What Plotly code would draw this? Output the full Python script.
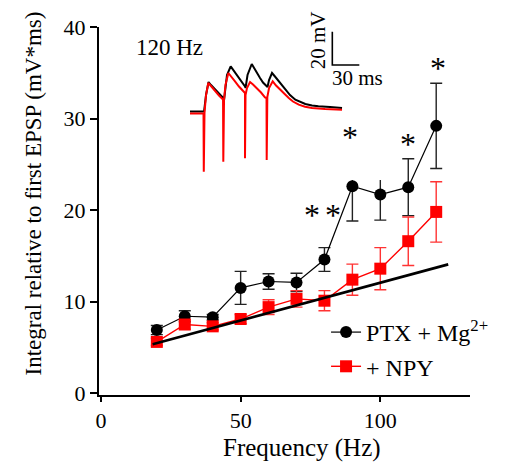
import plotly.graph_objects as go

# ---- main data ----
freq = [20, 30, 40, 50, 60, 70, 80, 90, 100, 110, 120]
ptx_mean = [6.9, 8.4, 8.3, 11.5, 12.2, 12.1, 14.6, 22.6, 21.7, 22.5, 29.2]
ptx_err = [0.5, 0.6, 0.3, 1.8, 0.85, 1.0, 1.3, 3.8, 2.8, 3.1, 4.65]
npy_mean = [5.6, 7.5, 7.3, 8.1, 9.4, 10.3, 10.1, 12.4, 13.6, 16.6, 19.8]
npy_err = [0.4, 0.5, 0.4, 0.5, 0.8, 0.9, 1.1, 1.7, 2.3, 2.65, 3.3]

fit_x = [18.5, 124.3]
fit_y = [5.35, 14.07]

star_x = [75.7, 82.9, 89.3, 110.0, 120.7]
star_y = [19.8, 19.8, 28.3, 27.6, 35.9]

x_ticks = [0, 50, 100]
y_ticks = [0, 10, 20, 30, 40]

# ---- inset traces (time in ms, voltage in mV relative to baseline) ----
red_t = [0, 15.0, 15.3, 16.1, 17.8, 20.3, 23.3, 27.8, 32.2, 36.7, 37.0, 37.8, 39.4, 42.6,
         45.6, 50.0, 54.4, 58.9, 61.1, 61.1, 61.7, 63.3, 66.7, 70.0, 74.1, 78.9, 83.3, 85.0,
         85.2, 85.9, 87.8, 91.9, 95.6, 100.3, 104.4, 109.7, 114.4, 120.8, 127.8, 135.6,
         150.0, 168.9]
red_v = [-0.1, -0.1, -35.0, 0.2, 11.0, 18.2, 16.4, 13.2, 10.7, 8.2, -29.0, 8.0, 17.0, 24.2,
         22.4, 19.2, 16.1, 13.2, 12.2, -27.0, 11.0, 15.2, 18.8, 17.3, 15.2, 12.5, 9.6, 9.2,
         -28.0, 9.8, 15.2, 19.2, 16.7, 14.2, 11.6, 9.2, 7.1, 5.2, 4.0, 3.2, 2.6, 2.2]
blk_t = [0, 15.6, 17.8, 20.6, 23.3, 27.8, 32.2, 37.0, 37.8, 38.9, 41.1, 45.2, 48.9, 53.7,
         57.2, 61.1, 61.7, 63.9, 68.6, 72.2, 77.8, 81.1, 85.2, 86.1, 87.8, 91.1, 94.4, 98.6,
         102.2, 105.9, 111.1, 117.0, 122.2, 128.1, 135.6, 142.6, 155.6, 168.9]
blk_v = [1.1, 1.1, 11.0, 18.8, 17.0, 14.3, 11.6, 9.2, 8.0, 14.0, 23.0, 28.2, 25.4, 22.2,
         19.1, 16.2, 15.2, 23.0, 29.6, 26.0, 21.2, 18.5, 16.2, 15.8, 20.0, 24.2, 22.1, 19.2,
         16.7, 14.2, 11.0, 8.2, 6.8, 5.6, 4.7, 4.2, 3.8, 3.2]
scale_t = [158.1, 158.1, 188.1]
scale_v = [49.0, 29.0, 29.0]

FONT = "Liberation Serif"
RED = "#ff0000"

fig = go.Figure()

fig.add_trace(go.Scatter(
    x=freq, y=ptx_mean, mode="lines+markers", name="PTX + Mg<sup>2+</sup>",
    line=dict(color="black", width=1.2),
    marker=dict(symbol="circle", size=12, color="black"),
    error_y=dict(type="data", array=ptx_err, visible=True, color="#222222",
                 thickness=1.4, width=6),
))
fig.add_trace(go.Scatter(
    x=freq, y=npy_mean, mode="lines+markers", name="+ NPY",
    line=dict(color=RED, width=1.4),
    marker=dict(symbol="square", size=12, color=RED),
    error_y=dict(type="data", array=npy_err, visible=True, color="#ff3333",
                 thickness=1.4, width=6),
))
fig.add_trace(go.Scatter(
    x=fit_x, y=fit_y, mode="lines", showlegend=False,
    line=dict(color="black", width=2.6),
))

# inset
fig.add_trace(go.Scatter(x=blk_t, y=blk_v, mode="lines", showlegend=False,
                         line=dict(color="black", width=2), xaxis="x2", yaxis="y2"))
fig.add_trace(go.Scatter(x=red_t, y=red_v, mode="lines", showlegend=False,
                         line=dict(color=RED, width=2), xaxis="x2", yaxis="y2"))
fig.add_trace(go.Scatter(x=scale_t, y=scale_v, mode="lines", showlegend=False,
                         line=dict(color="black", width=1.6), xaxis="x2", yaxis="y2"))

annotations = []
for sx, sy in zip(star_x, star_y):
    annotations.append(dict(x=sx, y=sy, xref="x", yref="y", text="*", showarrow=False,
                            font=dict(family=FONT, size=32, color="black"),
                            xanchor="center", yanchor="middle", yshift=-3))
annotations += [
    dict(x=24.4, y=37.8, xref="x", yref="y", text="120 Hz", showarrow=False,
         font=dict(family=FONT, size=23, color="black"), xanchor="center", yanchor="middle"),
    dict(x=142.6, y=44, xref="x2", yref="y2", text="20 mV", showarrow=False, textangle=-90,
         font=dict(family=FONT, size=21, color="black"), xanchor="center", yanchor="middle"),
    dict(x=186, y=21.2, xref="x2", yref="y2", text="30 ms", showarrow=False,
         font=dict(family=FONT, size=21, color="black"), xanchor="center", yanchor="middle"),
    dict(x=-0.1766, y=0.549, xref="paper", yref="paper", showarrow=False, textangle=-90,
         text="Integral relative to first EPSP (mV*ms)",
         font=dict(family=FONT, size=23, color="black"), xanchor="center", yanchor="middle"),
    dict(x=0.547, y=-0.144, xref="paper", yref="paper", showarrow=False,
         text="Frequency (Hz)",
         font=dict(family=FONT, size=25, color="black"), xanchor="center", yanchor="middle"),
]

fig.update_layout(
    width=508, height=468,
    margin=dict(l=99, r=38, t=27, b=73),
    paper_bgcolor="white", plot_bgcolor="white",
    font=dict(family=FONT, color="black"),
    showlegend=True,
    legend=dict(x=0.612, y=0.231, xanchor="left", yanchor="top",
                bgcolor="rgba(0,0,0,0)", borderwidth=0,
                font=dict(family=FONT, size=24, color="black"),
                tracegroupgap=0),
    xaxis=dict(range=[-0.7, 132.1], tickvals=x_ticks, ticktext=[str(v) for v in x_ticks],
               showgrid=False, zeroline=False, showline=True, linecolor="black", linewidth=2,
               ticks="outside", ticklen=5, tickwidth=1.5, tickcolor="black",
               tickfont=dict(family=FONT, size=22, color="black")),
    yaxis=dict(range=[-0.2, 40], tickvals=y_ticks, ticktext=[str(v) for v in y_ticks],
               showgrid=False, zeroline=False, showline=True, linecolor="black", linewidth=2,
               ticks="outside", ticklen=7, tickwidth=1.5, tickcolor="black",
               tickfont=dict(family=FONT, size=22, color="black")),
    xaxis2=dict(domain=[0.2318, 0.7844], range=[-5.56, 222.2], anchor="y2", visible=False,
                showgrid=False, zeroline=False),
    yaxis2=dict(domain=[0.5842, 1.0], range=[-40.0, 51.8], anchor="x2", visible=False,
                showgrid=False, zeroline=False),
    annotations=annotations,
)

fig.write_html("out.html")
